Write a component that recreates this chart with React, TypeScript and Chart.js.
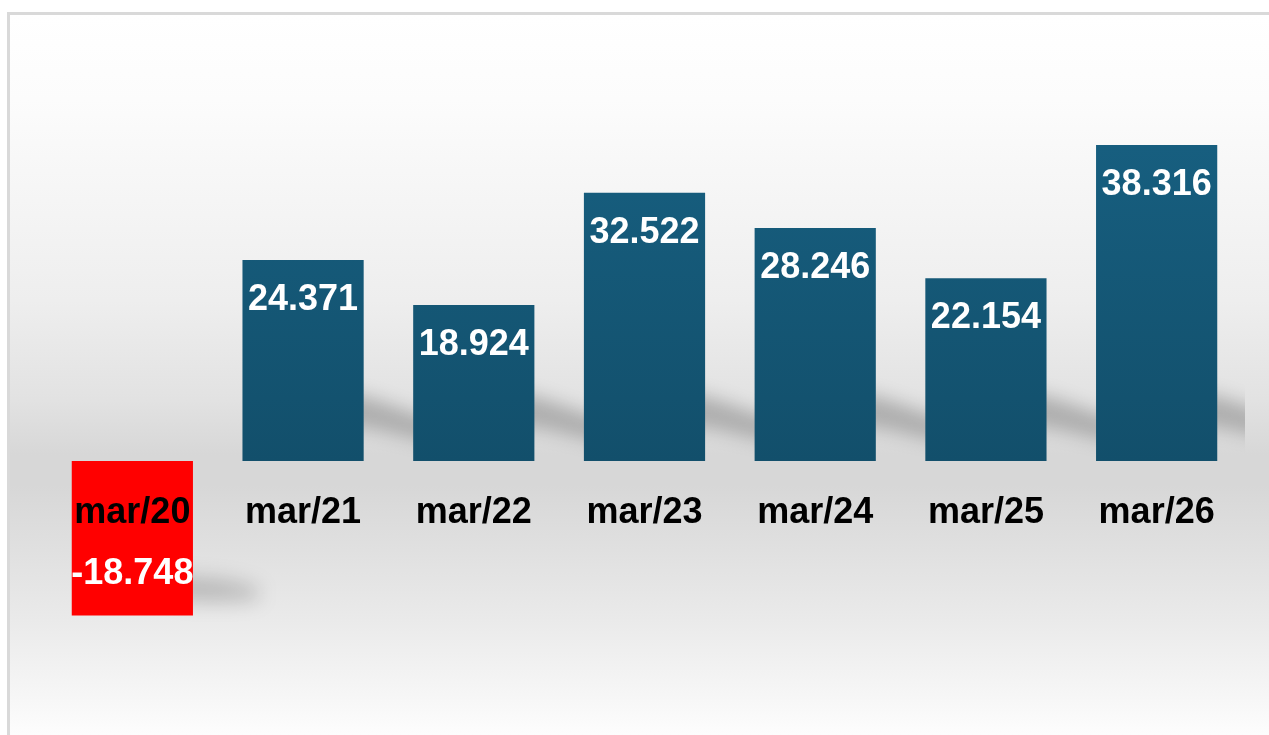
import React, { useEffect, useRef } from "react";
import { Chart, registerables } from "chart.js";

Chart.register(...registerables);

const categories = ["mar/20", "mar/21", "mar/22", "mar/23", "mar/24", "mar/25", "mar/26"];
const values = [-18.748, 24.371, 18.924, 32.522, 28.246, 22.154, 38.316];
const yMin = -25;
const yMax = 45;

const FONT = "'Liberation Sans', Arial, sans-serif";

const shadowPlugin = {
  id: "barShadows",
  beforeDatasetsDraw(chart: any) {
    const ctx = chart.ctx;
    const meta = chart.getDatasetMeta(0);
    ctx.save();
    ctx.beginPath();
    ctx.rect(0, 0, chart.chartArea.right + 3, chart.height);
    ctx.clip();
    meta.data.forEach((bar: any, i: number) => {
      const p = bar.getProps(["x", "y", "base", "width"], true);
      const right = p.x + p.width / 2;
      ctx.save();
      if (values[i] >= 0) {
        const b = p.base;
        ctx.filter = "blur(9px)";
        ctx.fillStyle = "rgba(0,0,0,0.22)";
        ctx.beginPath();
        ctx.moveTo(right - 20, b - 70);
        ctx.lineTo(right + 10, b - 62);
        ctx.lineTo(right + 70, b - 40);
        ctx.lineTo(right + 70, b - 18);
        ctx.lineTo(right + 10, b - 32);
        ctx.lineTo(right - 20, b - 36);
        ctx.closePath();
        ctx.fill();
      } else {
        const b = p.y;
        ctx.filter = "blur(10px)";
        ctx.fillStyle = "rgba(0,0,0,0.2)";
        ctx.beginPath();
        ctx.moveTo(right - 20, b - 40);
        ctx.lineTo(right + 30, b - 36);
        ctx.lineTo(right + 65, b - 28);
        ctx.lineTo(right + 65, b - 16);
        ctx.lineTo(right + 20, b - 14);
        ctx.lineTo(right - 20, b - 16);
        ctx.closePath();
        ctx.fill();
      }
      ctx.restore();
    });
    ctx.restore();
  },
  afterDatasetsDraw(chart: any) {
    const ctx = chart.ctx;
    const meta = chart.getDatasetMeta(0);
    ctx.save();
    ctx.font = `bold 36px ${FONT}`;
    ctx.fillStyle = "#ffffff";
    ctx.textAlign = "center";
    ctx.textBaseline = "middle";
    meta.data.forEach((bar: any, i: number) => {
      const p = bar.getProps(["x", "y"], true);
      const v = values[i];
      const y = v >= 0 ? p.y + 40 : p.y - 41;
      ctx.fillText(v.toFixed(3), p.x, y);
    });
    ctx.restore();
  },
};

export default function App() {
  const ref = useRef<HTMLCanvasElement | null>(null);

  useEffect(() => {
    if (!ref.current) return;
    const chart = new Chart(ref.current, {
      type: "bar",
      data: {
        labels: categories,
        datasets: [
          {
            data: values,
            borderWidth: 0,
            backgroundColor: (c: any) => {
              const v = values[c.dataIndex];
              if (v < 0) return "#ff0000";
              const ch = c.chart;
              const ys = ch.scales && ch.scales.y;
              if (!ys) return "#155a7a";
              const g = ch.ctx.createLinearGradient(0, ys.getPixelForValue(40), 0, ys.getPixelForValue(0));
              g.addColorStop(0, "#175f80");
              g.addColorStop(1, "#124f6b");
              return g;
            },
            categoryPercentage: 1,
            barPercentage: 0.71,
          },
        ],
      },
      options: {
        responsive: false,
        animation: false,
        layout: { padding: { left: 47, right: 27, top: 90, bottom: 68 } },
        plugins: {
          legend: { display: false },
          tooltip: { enabled: false },
          title: { display: false },
        },
        scales: {
          x: {
            position: { y: 0 } as any,
            grid: { display: false, drawTicks: false },
            border: { display: false },
            ticks: {
              z: 1,
              color: "#000000",
              padding: 31,
              font: { family: FONT, size: 36, weight: "bold" },
              maxRotation: 0,
              autoSkip: false,
            },
          },
          y: {
            display: false,
            min: yMin,
            max: yMax,
          },
        },
      },
      plugins: [shadowPlugin],
    });
    return () => chart.destroy();
  }, []);

  return (
    <div
      style={{
        position: "fixed",
        left: 0,
        top: 0,
        width: 1269,
        height: 735,
        overflow: "hidden",
        background: "#ffffff",
      }}
    >
      <div
        style={{
          position: "absolute",
          left: 7,
          top: 12,
          width: 1400,
          height: 900,
          border: "3px solid #d9d9d9",
          background:
            "linear-gradient(to bottom, #ffffff 0px, #fcfcfc 85px, #eeeeee 285px, #e2e2e2 385px, #d7d7d7 440px, #d7d7d7 470px, #e0e0e0 535px, #eaeaea 605px, #f7f7f7 685px, #fdfdfd 720px, #ffffff 760px)",
        }}
      />
      <canvas
        ref={ref}
        width={1269}
        height={735}
        style={{ position: "absolute", left: 0, top: 0, width: 1269, height: 735 }}
      />
    </div>
  );
}
